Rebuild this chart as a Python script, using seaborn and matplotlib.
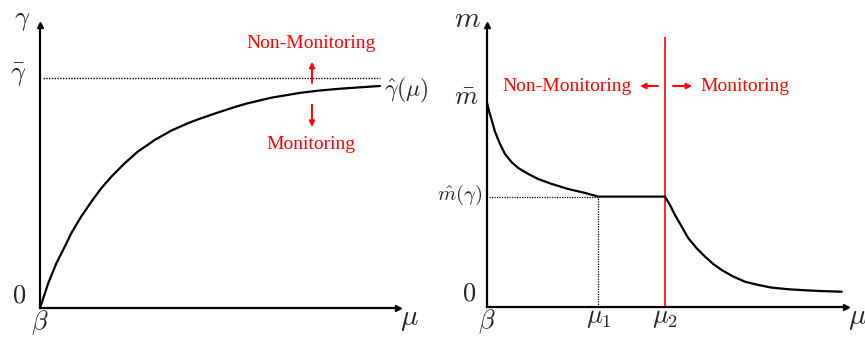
import matplotlib
matplotlib.use("Agg")
import matplotlib.pyplot as plt
import seaborn as sns
import pandas as pd

# Threshold curve gamma_hat(mu), with beta at 0 and gamma_bar scaled to 1
mu_gamma = [0.0, 0.024, 0.048, 0.073, 0.092, 0.121, 0.151, 0.180, 0.210,
            0.249, 0.288, 0.337, 0.386, 0.435, 0.465, 0.520, 0.574, 0.609,
            0.680, 0.765, 0.820, 0.882, 0.940, 1.0]
gamma_hat = [0.0, 0.107, 0.194, 0.267, 0.325, 0.397, 0.462, 0.520, 0.571,
             0.629, 0.680, 0.730, 0.771, 0.803, 0.820, 0.848, 0.874, 0.889,
             0.914, 0.935, 0.945, 0.953, 0.959, 0.965]
gamma_bar = 1.0

# Monitoring level m(mu), with m_bar scaled to 1 and mu_2 at 1
mu_m = [0.0, 0.013, 0.026, 0.045, 0.073, 0.101, 0.139, 0.176, 0.232, 0.288,
        0.364, 0.457, 0.551, 0.626,
        1.0, 1.028, 1.056, 1.094, 1.131, 1.178, 1.225, 1.271, 1.319, 1.384,
        1.449, 1.524, 1.599, 1.693, 1.787, 1.880, 1.993]
m_vals = [1.0, 0.955, 0.917, 0.859, 0.799, 0.750, 0.709, 0.681, 0.652, 0.627,
          0.603, 0.578, 0.559, 0.541,
          0.541, 0.500, 0.451, 0.394, 0.337, 0.288, 0.247, 0.211, 0.181, 0.149,
          0.124, 0.108, 0.095, 0.087, 0.082, 0.078, 0.075]
mu_1 = 0.626
mu_2 = 1.0
m_hat = 0.541

left_xticks = [0.0]
left_xticklabels = [r"$\beta$"]
right_xticks = [0.0, mu_1, mu_2]
right_xticklabels = [r"$\beta$", r"$\mu_1$", r"$\mu_2$"]

sns.set_theme(style="white")
plt.rcParams["mathtext.fontset"] = "cm"
plt.rcParams["font.family"] = ["Liberation Serif", "DejaVu Serif"]

W, H = 865, 337
fig = plt.figure(figsize=(W / 100, H / 100), dpi=100)
fig.patch.set_facecolor("white")

ax1 = fig.add_axes([40 / W, (H - 308) / H, 358 / W, 283 / H])
ax2 = fig.add_axes([487 / W, (H - 307) / H, 359 / W, 282 / H])

RED = "#ff0000"
LABEL = 19
RED_SIZE = 14


def style_axes(ax, xmax, ymax):
    ax.set_xlim(0, xmax)
    ax.set_ylim(0, ymax)
    ax.set_facecolor("white")
    for side in ("top", "right"):
        ax.spines[side].set_visible(False)
    for side in ("left", "bottom"):
        ax.spines[side].set_visible(True)
        ax.spines[side].set_color("black")
        ax.spines[side].set_linewidth(1.6)
    ax.set_yticks([])
    ax.tick_params(axis="x", length=0, pad=0.5, labelsize=LABEL)
    ax.plot(1, 0, ">", color="black", markersize=5, transform=ax.transAxes,
            clip_on=False)
    ax.plot(0, 1, "^", color="black", markersize=5, transform=ax.transAxes,
            clip_on=False)


def red_arrow(ax, start, end):
    ax.annotate("", xy=end, xytext=start,
                arrowprops=dict(arrowstyle="-|>", color=RED, lw=1.4,
                                mutation_scale=8, shrinkA=0, shrinkB=0))


# ---------------- left panel: gamma vs mu ----------------
style_axes(ax1, 1.053, 1.23)
df1 = pd.DataFrame({"mu": mu_gamma, "gamma": gamma_hat})
sns.lineplot(data=df1, x="mu", y="gamma", ax=ax1, color="black", lw=1.6,
             sort=False, estimator=None)
ax1.hlines(gamma_bar, 0.01, 1.0, colors="black", linestyles=(0, (1, 1)), lw=1.0)
ax1.set_xticks(left_xticks)
ax1.set_xticklabels(left_xticklabels)
ax1.set_xlabel("")
ax1.set_ylabel("")

ax1.text(-0.04, gamma_bar + 0.01, r"$\bar{\gamma}$", fontsize=LABEL, ha="right",
         va="center")
ax1.text(-0.04, 0.05, r"$0$", fontsize=LABEL, ha="right", va="center")
ax1.text(-0.053, 1.245, r"$\gamma$", fontsize=LABEL, ha="center", va="center")
ax1.text(1.088, -0.05, r"$\mu$", fontsize=LABEL + 2, ha="center", va="center",
         clip_on=False)
ax1.text(1.013, gamma_hat[-1] - 0.02, r"$\hat{\gamma}(\mu)$", fontsize=17,
         ha="left", va="center")

red_arrow(ax1, (0.8, 0.978), (0.8, 1.07))
red_arrow(ax1, (0.8, 0.883), (0.8, 0.787))
ax1.text(0.797, 1.148, "Non-Monitoring", color=RED, fontsize=RED_SIZE,
         ha="center", va="center")
ax1.text(0.797, 0.709, "Monitoring", color=RED, fontsize=RED_SIZE,
         ha="center", va="center")

# ---------------- right panel: m vs mu ----------------
style_axes(ax2, 2.017, 1.382)
df2 = pd.DataFrame({"mu": mu_m, "m": m_vals})
sns.lineplot(data=df2, x="mu", y="m", ax=ax2, color="black", lw=1.6,
             sort=False, estimator=None, zorder=3)
ax2.hlines(m_hat, 0.01, mu_1, colors="black", linestyles=(0, (1, 1)), lw=0.9)
ax2.vlines(mu_1, 0, m_hat, colors="black", linestyles=(0, (1, 1)), lw=0.9)
ax2.vlines(mu_2, 0, 1.324, colors=RED, lw=1.2, zorder=2)
ax2.set_xticks(right_xticks)
ax2.set_xticklabels(right_xticklabels)
ax2.set_xlabel("")
ax2.set_ylabel("")

ax2.text(-0.05, 1.02, r"$\bar{m}$", fontsize=LABEL, ha="right", va="center")
ax2.text(-0.025, m_hat + 0.01, r"$\hat{m}(\gamma)$", fontsize=15, ha="right",
         va="center")
ax2.text(-0.06, 0.06, r"$0$", fontsize=LABEL, ha="right", va="center")
ax2.text(-0.112, 1.405, r"$m$", fontsize=LABEL + 2, ha="center", va="center")
ax2.text(2.079, -0.06, r"$\mu$", fontsize=LABEL + 2, ha="center", va="center",
         clip_on=False)

red_arrow(ax2, (0.961, 1.083), (0.860, 1.083))
red_arrow(ax2, (1.045, 1.083), (1.152, 1.083))
ax2.text(0.815, 1.083, "Non-Monitoring", color=RED, fontsize=RED_SIZE,
         ha="right", va="center")
ax2.text(1.197, 1.083, "Monitoring", color=RED, fontsize=RED_SIZE,
         ha="left", va="center")

fig.savefig("out.png", dpi=100, facecolor="white")
